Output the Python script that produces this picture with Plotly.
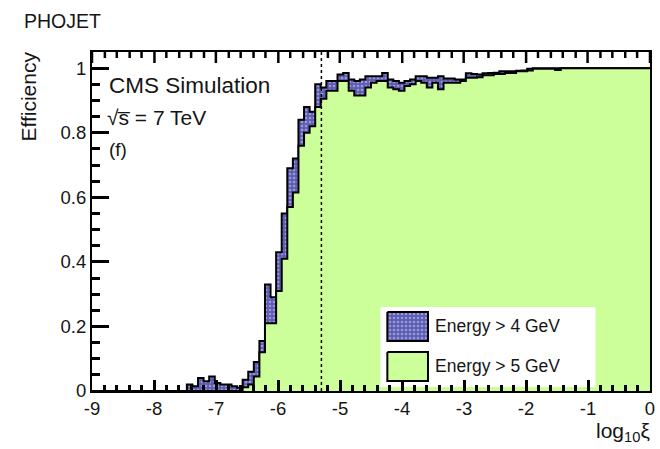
import numpy as np
import plotly.graph_objects as go

# Binning: 100 bins in log10(xi) from -9 to 0
n_bins = 100
x_lo, x_hi = -9.0, 0.0
cut_log10_xi = -5.3

# Efficiency per bin, calorimeter energy threshold > 4 GeV
eff_4gev = (
    [0.0] * 17
    + [0.02, 0.015, 0.04, 0.03, 0.045, 0.025, 0.02, 0.02, 0.015, 0.01,
       0.035, 0.06, 0.09, 0.155, 0.33, 0.29, 0.43, 0.55, 0.69, 0.72,
       0.84, 0.88, 0.865, 0.95, 0.94, 0.96, 0.96, 0.98, 0.985, 0.965,
       0.96, 0.965, 0.975, 0.975, 0.975, 0.985, 0.965, 0.96, 0.955, 0.96,
       0.965, 0.975, 0.975, 0.97, 0.97, 0.975, 0.968, 0.968, 0.965, 0.965,
       0.984, 0.982, 0.98, 0.984, 0.985, 0.986, 0.99, 0.99, 0.99, 0.992,
       0.993, 0.998, 1.0, 1.0, 1.0, 1.0, 1.0]
    + [1.0] * 16
)

# Efficiency per bin, calorimeter energy threshold > 5 GeV
eff_5gev = (
    [0.0] * 27
    + [0.012, 0.02, 0.045, 0.12, 0.21, 0.21, 0.31, 0.41, 0.57, 0.615,
       0.76, 0.80, 0.82, 0.88, 0.905, 0.93, 0.93, 0.96, 0.96, 0.93,
       0.915, 0.915, 0.94, 0.955, 0.96, 0.96, 0.94, 0.935, 0.93, 0.945,
       0.95, 0.96, 0.955, 0.94, 0.955, 0.935, 0.955, 0.955, 0.955, 0.96,
       0.97, 0.97, 0.972, 0.978, 0.978, 0.982, 0.982, 0.985, 0.985, 0.99,
       0.99, 0.993, 0.998, 0.998, 0.998, 0.998, 0.994]
    + [1.0] * 16
)

x_ticks = [-9, -8, -7, -6, -5, -4, -3, -2, -1, 0]
y_ticks = [0, 0.2, 0.4, 0.6, 0.8, 1]
y_tick_text = ["0", "0.2", "0.4", "0.6", "0.8", "1"]

label_4 = "Energy > 4 GeV"
label_5 = "Energy > 5 GeV"

edges = np.linspace(x_lo, x_hi, n_bins + 1)

FONT = "Liberation Sans, Arial, sans-serif"
TXT = "#151515"
BLUE_BG = "#5c5cb4"
BLUE_FG = "#d4d4f2"
GREEN = "#ccff99"
TICK_W = 2.5

W, H = 660, 449
# plot area in pixels
L, R, T, B = 92, 655, 52, 391


def step(vals):
    return list(vals) + [vals[-1]]


def to_px(v):
    """Map a log10(xi) value onto the pixel-based overlay axis."""
    return L + (v - x_lo) / (x_hi - x_lo) * (R - L)


fig = go.Figure()

fig.add_trace(go.Scatter(
    x=edges, y=step(eff_4gev), mode="lines", line_shape="hv",
    line=dict(color="black", width=2),
    fill="tozeroy", fillcolor=BLUE_BG,
    fillpattern=dict(shape=".", bgcolor=BLUE_BG, fgcolor=BLUE_FG,
                     size=4, solidity=0.35),
    showlegend=False, hoverinfo="skip",
))
fig.add_trace(go.Scatter(
    x=edges, y=step(eff_5gev), mode="lines", line_shape="hv",
    line=dict(color="black", width=2),
    fill="tozeroy", fillcolor=GREEN,
    showlegend=False, hoverinfo="skip",
))

# ---- overlay in pixel coordinates: top-edge ticks and the legend ----
tick_x, tick_y = [], []
for v in np.round(np.arange(x_lo, x_hi + 1e-9, 0.2), 6):
    major = abs(v - round(v)) < 1e-6
    xp = round(to_px(v))
    tick_x += [xp, xp, None]
    tick_y += [T, T + (11 if major else 6), None]
fig.add_trace(go.Scatter(x=tick_x, y=tick_y, xaxis="x2", yaxis="y2",
                         mode="lines", line=dict(color="black", width=TICK_W),
                         cliponaxis=False, showlegend=False,
                         hoverinfo="skip"))


def rect(x0, y0, x1, y1):
    return [x0, x1, x1, x0, x0], [y0, y0, y1, y1, y0]


bx, by = rect(383, 307, 600, 387)
fig.add_trace(go.Scatter(x=bx, y=by, xaxis="x2", yaxis="y2", mode="lines",
                         fill="toself", fillcolor="white",
                         line=dict(width=0, color="white"),
                         showlegend=False, hoverinfo="skip"))
sx, sy = rect(390, 312, 431, 341)
fig.add_trace(go.Scatter(x=sx, y=sy, xaxis="x2", yaxis="y2", mode="lines",
                         fill="toself", fillcolor=BLUE_BG,
                         fillpattern=dict(shape=".", bgcolor=BLUE_BG,
                                          fgcolor=BLUE_FG, size=4,
                                          solidity=0.35),
                         line=dict(width=2, color="black"),
                         showlegend=False, hoverinfo="skip"))
gx, gy = rect(390, 352, 431, 381)
fig.add_trace(go.Scatter(x=gx, y=gy, xaxis="x2", yaxis="y2", mode="lines",
                         fill="toself", fillcolor=GREEN,
                         line=dict(width=2, color="black"),
                         showlegend=False, hoverinfo="skip"))


def px(x):
    return (x - L) / (R - L)


def py(y):
    return (B - y) / (B - T)


annotations = [
    dict(x=px(436), y=py(326), text=label_4, xanchor="left", yanchor="middle",
         font=dict(size=17.5)),
    dict(x=px(436), y=py(366), text=label_5, xanchor="left", yanchor="middle",
         font=dict(size=17.5)),
    dict(x=px(107), y=py(85), text="CMS Simulation", xanchor="left",
         yanchor="middle", font=dict(size=22.5)),
    dict(x=px(105), y=py(118), text="\u221as\u0305 = 7 TeV", xanchor="left",
         yanchor="middle", font=dict(size=21)),
    dict(x=px(107), y=py(149), text="(f)", xanchor="left",
         yanchor="middle", font=dict(size=19)),
    dict(x=px(21), y=py(21), text="PHOJET", xanchor="left",
         yanchor="middle", font=dict(size=19.5)),
    dict(x=px(28), y=py(50), text="Efficiency", textangle=-90,
         xanchor="center", yanchor="top", font=dict(size=21)),
    dict(x=px(657), y=py(432), text="log<sub>10</sub>\u03be", xanchor="right",
         yanchor="middle", font=dict(size=21)),
]
for a in annotations:
    a.update(xref="paper", yref="paper", showarrow=False)
    a["font"].update(family=FONT, color=TXT)

fig.add_shape(type="line", x0=cut_log10_xi, x1=cut_log10_xi, y0=0, y1=1,
              xref="x", yref="paper", layer="above",
              line=dict(color="black", width=1.5, dash="dot"))

fig.update_layout(
    width=W, height=H,
    margin=dict(l=L, r=W - R, t=T, b=H - B),
    paper_bgcolor="white", plot_bgcolor="white",
    font=dict(family=FONT, color=TXT),
    annotations=annotations,
    xaxis=dict(
        range=[x_lo, x_hi], tickvals=x_ticks,
        ticktext=[str(t) for t in x_ticks],
        ticks="inside", ticklen=11, tickwidth=TICK_W, tickcolor="black",
        minor=dict(ticks="inside", ticklen=6, dtick=0.2, tickwidth=TICK_W,
                   tickcolor="black"),
        showline=True, linecolor="black", linewidth=2, mirror=True,
        showgrid=False, zeroline=False, tickfont=dict(size=18.5),
        layer="above traces",
    ),
    yaxis=dict(
        range=[0, 1.05], tickvals=y_ticks, ticktext=y_tick_text,
        ticks="inside", ticklen=17, tickwidth=TICK_W, tickcolor="black",
        minor=dict(ticks="inside", ticklen=8, dtick=0.05, tickwidth=TICK_W,
                   tickcolor="black"),
        showline=True, linecolor="black", linewidth=2, mirror=True,
        showgrid=False, zeroline=False, tickfont=dict(size=18.5),
        layer="above traces",
    ),
    xaxis2=dict(overlaying="x", anchor="y2", range=[L, R], visible=False,
                fixedrange=True),
    yaxis2=dict(overlaying="y", anchor="x2", range=[B, T], visible=False,
                fixedrange=True),
)

fig.write_html("out.html")
